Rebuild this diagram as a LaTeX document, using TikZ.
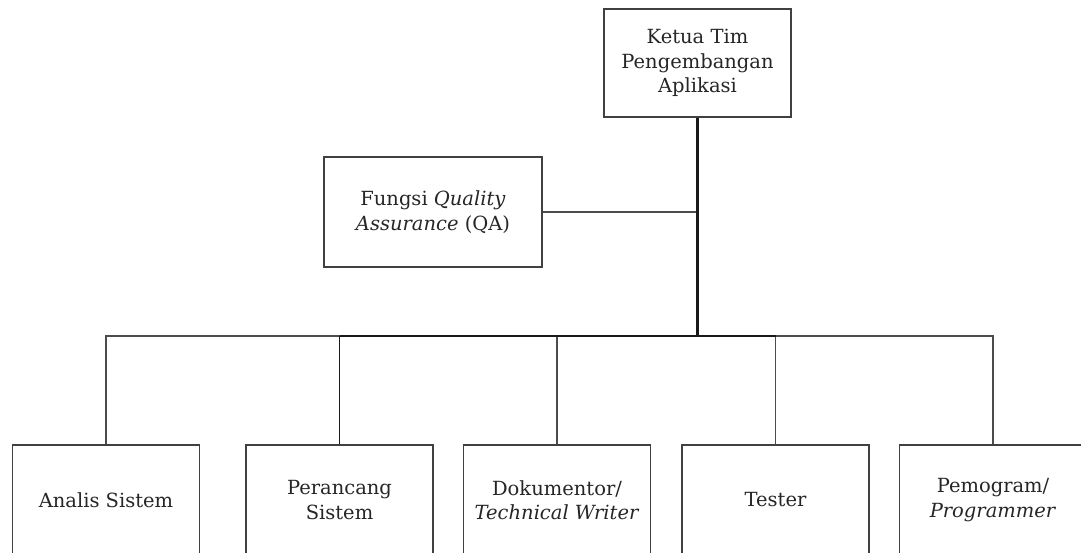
\documentclass[tikz,border=0pt]{standalone}
\usepackage{fontspec}
\setmainfont{DejaVu Serif}
\begin{document}
\begin{tikzpicture}[x=1pt,y=-1pt,
  box/.style={draw=black!75,line width=1.3pt,fill=white,rectangle,align=center,
    font=\fontsize{19.5}{24.5}\selectfont,text=black!85,inner sep=0pt},
  topbox/.style={box,minimum width=187pt,minimum height=108pt},
  qabox/.style={box,minimum width=218pt,minimum height=110pt},
  botbox/.style={box,minimum width=187pt,minimum height=110pt},
  thin/.style={draw=black!70,line width=1.4pt},
  thick/.style={draw=black!90,line width=2.2pt}]
\useasboundingbox (0,0) rectangle (1081,552);
\clip (0,0) rectangle (1081,552);
\fill[white] (0,0) rectangle (1081,552);
\node[topbox] (top) at (697.5,63) {Ketua Tim\\Pengembangan\\Aplikasi};
\node[qabox] (qa) at (433,212) {Fungsi \textit{Quality}\\\textit{Assurance} (QA)};
\node[botbox] (ana) at (106,500) {Analis Sistem};
\node[botbox] (per) at (339.5,500) {Perancang\\Sistem};
\node[botbox] (dok) at (557,500) {Dokumentor/\\\textit{Technical Writer}};
\node[botbox] (tes) at (775.5,500) {Tester};
\node[botbox] (pem) at (993,500) {Pemogram/\\\textit{Programmer}};
\coordinate (bar) at (697.5,336);
\coordinate (qj) at (697.5,212);
\draw[thin] (qa.east) -- (qj);
\draw[thin] (ana.north) -- (ana.north |- bar) -- (pem.north |- bar) -- (pem.north);
\draw[thin] (dok.north) -- (dok.north |- bar);
\draw[thin] (tes.north) -- (tes.north |- bar);
\draw[thin,draw=black!90] (per.north) -- (per.north |- bar);
\draw[thick] (per.north |- bar) -- (tes.north |- bar);
\draw[thick] (top.south) -- (bar);
\end{tikzpicture}
\end{document}
